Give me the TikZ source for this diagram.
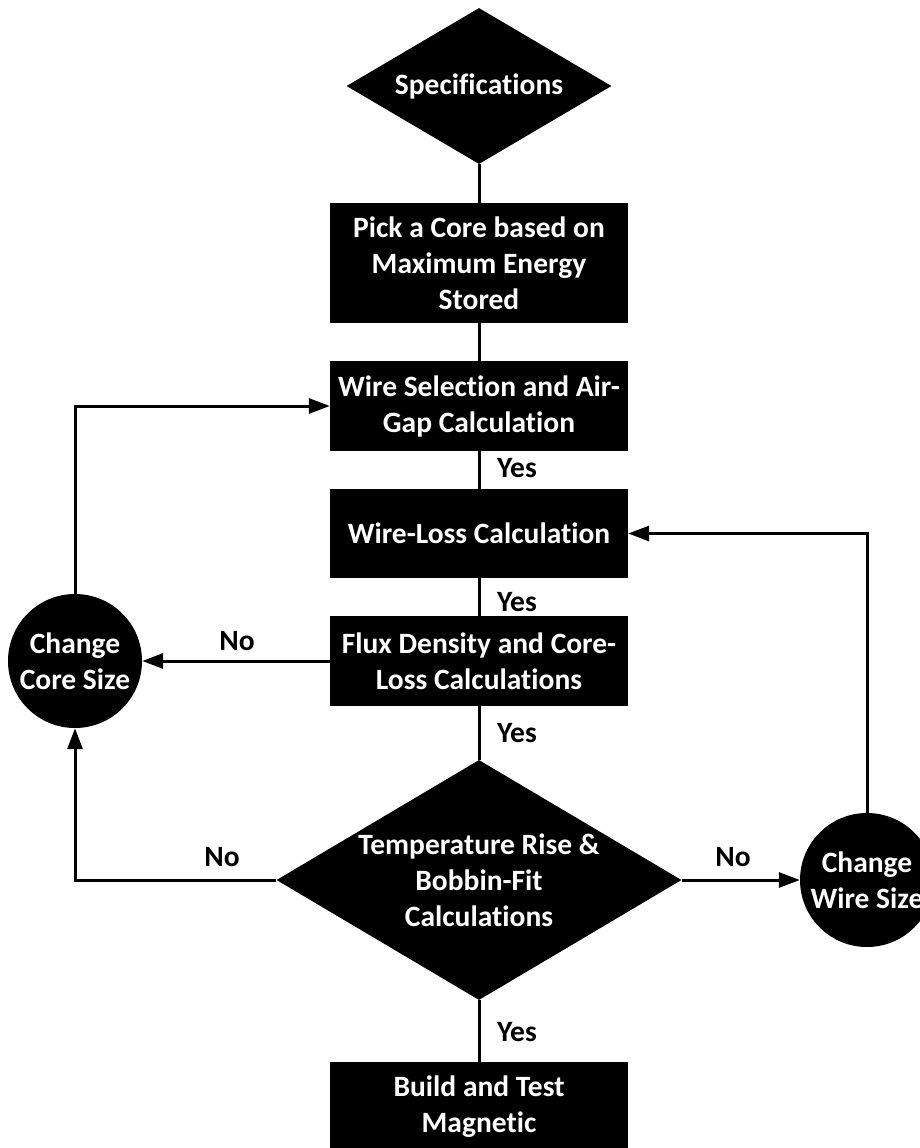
\documentclass[tikz,border=0pt]{standalone}
\usepackage{fontspec}
\setmainfont{Carlito}[Ligatures=NoCommon]
\usetikzlibrary{shapes.geometric,arrows.meta}
\begin{document}
\begin{tikzpicture}[x=1pt,y=-1pt,
  every node/.style={font=\fontsize{29.5}{36}\selectfont\bfseries},
  box/.style={rectangle, fill=black, text=white, minimum width=298pt, inner sep=0pt, align=center},
  dia/.style={diamond, fill=black, inner sep=0pt},
  circ/.style={circle, fill=black, minimum size=134pt, inner sep=0pt},
  wtxt/.style={text=white, align=center, inner sep=0pt},
  lab/.style={text=black, inner sep=0pt},
  conn/.style={line width=3pt},
  arr/.style={conn, -{Triangle[length=21pt,width=15pt]}}
]
\useasboundingbox (0,0) rectangle (920,1148);
\fill[white] (0,0) rectangle (920,1148);

\node[dia, minimum width=265pt, minimum height=156pt] (spec) at (479,86) {};
\node[wtxt] (spect) at (spec) {Specifications};

\node[box, minimum height=120pt] (b1) at (479,263) {Pick a Core based on\\Maximum Energy\\Stored};
\node[box, minimum height=90pt] (b2) at (479,406) {Wire Selection and Air-\\Gap Calculation};
\node[box, minimum height=89pt] (b3) at (479,533.5) {Wire-Loss Calculation};
\node[box, minimum height=90pt] (b4) at (479,661) {Flux Density and Core-\\Loss Calculations};
\node[dia, minimum width=405pt, minimum height=240pt] (d2) at (479,880) {};
\node[wtxt] (d2t) at (d2) {Temperature Rise \&\\Bobbin-Fit\\Calculations};
\node[box, minimum height=90pt] (b5) at (479,1107) {Build and Test\\Magnetic};

\node[circ] (cc) at (75,661) {};
\node[wtxt] (cct) at (cc) {Change\\Core Size};
\node[circ] (wc) at (867,880) {};
\node[wtxt] (wct) at (wc) {Change\\Wire Size};

\draw[conn] (spec.south) -- (b1.north);
\draw[conn] (b1.south) -- (b2.north);
\draw[conn] (b2.south) -- (b3.north);
\draw[conn] (b3.south) -- (b4.north);
\draw[conn] (b4.south) -- (d2.north);
\draw[conn] (d2.south) -- (b5.north);

\draw[arr] (b4.west) -- (cc.east);
\draw[arr] (d2.west) -| (cc.south);
\draw[arr] (cc.north) |- (b2.west);
\draw[arr] (d2.east) -- (wc.west);
\draw[arr] (wc.north) |- (b3.east);

\node[lab] (y1) at (517,468) {Yes};
\node[lab] (y2) at (517,602) {Yes};
\node[lab] (y3) at (517,733) {Yes};
\node[lab] (y4) at (517,1032) {Yes};
\node[lab] (n1) at (237,641) {No};
\node[lab] (n2) at (222,857) {No};
\node[lab] (n3) at (733,857) {No};
\end{tikzpicture}
\end{document}
